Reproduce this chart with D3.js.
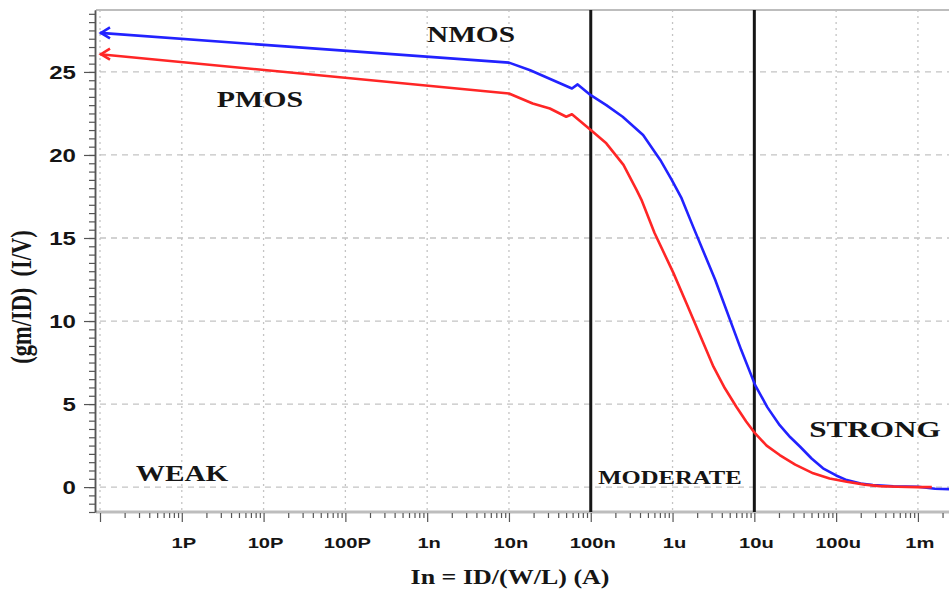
<!DOCTYPE html>
<html>
<head>
<meta charset="utf-8">
<title>gm/ID</title>
<script src="https://d3js.org/d3.v7.min.js"></script>
<style>
  body { margin: 0; background: #fff; }
  svg { display: block; }
  .sans { font-family: "Liberation Sans", Arial, sans-serif; font-weight: bold; fill: #151515; }
  .serif { font-family: "Liberation Serif", "Times New Roman", serif; font-weight: bold; fill: #151515; }
</style>
</head>
<body>
<script>
// values: log10 of In (A) and gm/ID (1/V)
var nmosLogI = [-13, -8, -7.74, -7.23, -7.16, -7.0, -6.81, -6.61, -6.36, -6.15, -6.01, -5.89,
                -5.75, -5.48, -5.16, -4.99, -4.84, -4.69, -4.56, -4.44, -4.3, -4.16, -4.0,
                -3.87, -3.7, -3.55, -3.3, -3.0, -2.79, -2.62];
var nmosGmId = [27.35, 25.56, 25.1, 24.0, 24.25, 23.6, 23.0, 22.3, 21.2, 19.7, 18.5, 17.4,
                15.7, 12.5, 8.25, 6.14, 4.8, 3.73, 3.0, 2.43, 1.72, 1.13, 0.7,
                0.42, 0.22, 0.12, 0.05, 0.02, -0.1, -0.12];
var pmosLogI = [-13, -8, -7.71, -7.5, -7.3, -7.23, -7.0, -6.81, -6.6, -6.44, -6.38, -6.22,
                -5.99, -5.83, -5.6, -5.5, -5.36, -5.22, -5.1, -4.99, -4.85, -4.69, -4.5,
                -4.28, -4.08, -3.87, -3.65, -3.47, -3.25, -3.0, -2.83];
var pmosGmId = [26.07, 23.7, 23.1, 22.8, 22.3, 22.45, 21.5, 20.7, 19.4, 17.9, 17.3, 15.3,
                12.9, 11.07, 8.4, 7.25, 5.95, 4.84, 3.95, 3.23, 2.5, 1.93, 1.35,
                0.83, 0.52, 0.32, 0.15, 0.06, 0.02, 0.0, 0.0];

var xTickValues = [1e-12, 1e-11, 1e-10, 1e-9, 1e-8, 1e-7, 1e-6, 1e-5, 1e-4, 1e-3];
var xTickLabels = ["1P", "10P", "100P", "1n", "10n", "100n", "1u", "10u", "100u", "1m"];
var yTickValues = [0, 5, 10, 15, 20, 25];
var regionBounds = [1e-7, 1e-5];   // weak / moderate / strong limits

// SET UP SVG
var width = 949,
    height = 590,
    sx = 1.3;   // the source picture is stretched sideways, so is the text

var svg = d3.select("body").append("svg")
            .attr("width", width)
            .attr("height", height);

var x = d3.scaleLog().domain([1e-13, Math.pow(10, -2.62)]).range([100, 949]);
var y = d3.scaleLinear().domain([-1.5, 28.73]).range([512, 10]);

// GRID
svg.append("g").selectAll("line")
   .data(yTickValues).enter().append("line")
   .attr("x1", 100).attr("x2", width)
   .attr("y1", function(d) { return y(d); }).attr("y2", function(d) { return y(d); })
   .attr("stroke", "#c4c4c4").attr("stroke-width", 1.3).attr("stroke-dasharray", "6,5");

svg.append("g").selectAll("line")
   .data([1e-13].concat(xTickValues)).enter().append("line")
   .attr("x1", function(d) { return x(d); }).attr("x2", function(d) { return x(d); })
   .attr("y1", 10).attr("y2", 512)
   .attr("stroke", "#c4c4c4").attr("stroke-width", 1.3).attr("stroke-dasharray", "2,4");

// frame
svg.append("line").attr("x1", 96).attr("x2", width).attr("y1", 10).attr("y2", 10)
   .attr("stroke", "#bdbdbd").attr("stroke-width", 2);
svg.append("line").attr("x1", 96).attr("x2", width).attr("y1", 512).attr("y2", 512)
   .attr("stroke", "#bdbdbd").attr("stroke-width", 3);

// AXES
var minorY = d3.range(-1.5, 28.6, 0.5);
var yMinor = svg.append("g").attr("transform", "translate(95,0)")
   .call(d3.axisLeft(y).tickValues(minorY).tickSize(6).tickSizeOuter(0).tickFormat(""));
var yMajor = svg.append("g").attr("transform", "translate(95,0)")
   .call(d3.axisLeft(y).tickValues(yTickValues).tickSize(11).tickSizeOuter(0).tickFormat(""));

var minorX = [];
for (var e = -13; e <= -3; e++) {
  for (var k = 2; k <= 9; k++) {
    var v = k * Math.pow(10, e);
    if (v < x.domain()[1]) minorX.push(v);
  }
}
var xMinor = svg.append("g").attr("transform", "translate(0,513)")
   .call(d3.axisBottom(x).tickValues(minorX).tickSize(5).tickSizeOuter(0).tickFormat(""));
var xMajor = svg.append("g").attr("transform", "translate(0,513)")
   .call(d3.axisBottom(x).tickValues([1e-13].concat(xTickValues)).tickSize(9).tickSizeOuter(0).tickFormat(""));

[yMinor, yMajor, xMinor, xMajor].forEach(function(g) {
  g.selectAll("line").attr("stroke", "#555").attr("stroke-width", 1.2);
  g.select(".domain").attr("stroke", "#555").attr("stroke-width", 1.5);
});
xMinor.select(".domain").remove();
xMajor.select(".domain").remove();

// tick labels
svg.append("g").selectAll("text")
   .data(yTickValues).enter().append("text")
   .attr("class", "sans")
   .attr("text-anchor", "end")
   .style("font-size", "18.5px")
   .attr("transform", function(d) { return "translate(76," + (y(d) + 7) + ") scale(" + sx + ",1)"; })
   .text(function(d) { return d; });

svg.append("g").selectAll("text")
   .data(xTickValues).enter().append("text")
   .attr("class", "sans")
   .attr("text-anchor", "middle")
   .style("font-size", "15.5px")
   .attr("transform", function(d) { return "translate(" + (x(d) + 2) + ",548) scale(" + sx + ",1)"; })
   .text(function(d, i) { return xTickLabels[i]; });

// REGION LIMITS
svg.append("g").selectAll("line")
   .data(regionBounds).enter().append("line")
   .attr("x1", function(d) { return x(d); }).attr("x2", function(d) { return x(d); })
   .attr("y1", 10).attr("y2", 512)
   .attr("stroke", "#161616").attr("stroke-width", 3);

// CURVES
function pts(logs, vals) {
  return logs.map(function(l, i) { return [Math.pow(10, l), vals[i]]; });
}
var line = d3.line()
   .x(function(d) { return x(d[0]); })
   .y(function(d) { return y(d[1]); });

var series = [
  { name: "NMOS", color: "#2222ff", data: pts(nmosLogI, nmosGmId) },
  { name: "PMOS", color: "#ff2626", data: pts(pmosLogI, pmosGmId) }
];

series.forEach(function(s) {
  svg.append("path").datum(s.data)
     .attr("d", line)
     .attr("fill", "none")
     .attr("stroke", s.color)
     .attr("stroke-width", 2.6)
     .attr("stroke-linejoin", "round");
  // arrow at the left end
  var p0 = s.data[0];
  var ax = x(p0[0]), ay = y(p0[1]);
  svg.append("path")
     .attr("d", "M" + (ax + 10) + "," + (ay - 5.5) + "L" + (ax + 1) + "," + ay + "L" + (ax + 10) + "," + (ay + 5.5))
     .attr("fill", "none")
     .attr("stroke", s.color)
     .attr("stroke-width", 2.6);
});

// LABELS
function label(px, py, txt, size) {
  svg.append("text")
     .attr("class", "serif")
     .attr("text-anchor", "middle")
     .style("font-size", size + "px")
     .attr("transform", "translate(" + px + "," + py + ") scale(" + sx + ",1)")
     .text(txt);
}
label(471, 42, "NMOS", 22.6);
label(260, 107, "PMOS", 23);
label(182, 481, "WEAK", 22.5);
label(670, 484, "MODERATE", 19);
label(875, 437, "STRONG", 24);
label(510, 584, "In = ID/(W/L) (A)", 20);

svg.append("text")
   .attr("class", "serif")
   .attr("text-anchor", "middle")
   .style("font-size", "22.5px")
   .attr("transform", "translate(31,297) scale(1.3,1) rotate(-90)")
   .text("(gm/ID)\u00a0\u00a0(I/V)");
</script>
</body>
</html>
